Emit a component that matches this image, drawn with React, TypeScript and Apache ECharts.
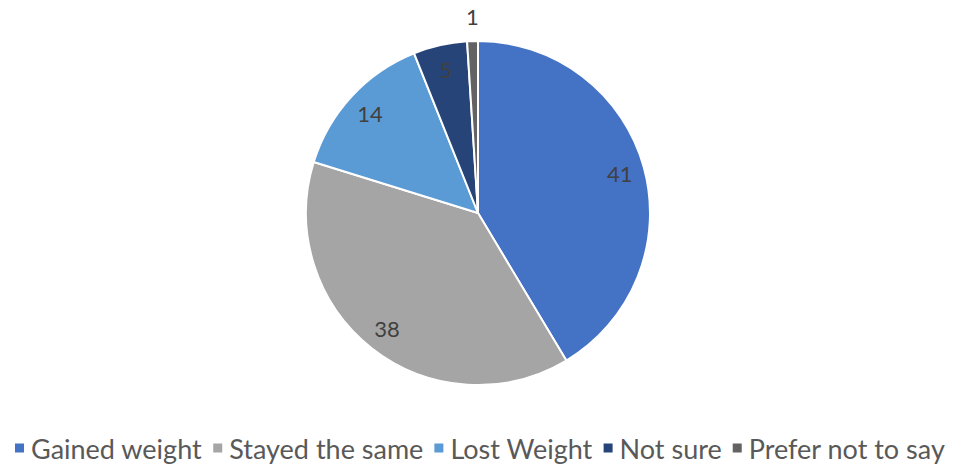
import React, { useEffect, useRef } from "react";
import * as echarts from "echarts";

const categories = ["Gained weight", "Stayed the same", "Lost Weight", "Not sure", "Prefer not to say"];
const values = [41, 38, 14, 5, 1];
const colors = ["#4472C4", "#A5A5A5", "#5B9BD5", "#264478", "#636363"];
const outsideLabelNames = ["Prefer not to say"];

export default function App() {
  const ref = useRef<HTMLDivElement>(null);
  useEffect(() => {
    if (!ref.current) return;
    const chart = echarts.init(ref.current, undefined, { renderer: "svg" });
    const center = [478, 213];
    const R = 172;
    const labelFont = { fontFamily: "Lato", fontSize: 22, color: "#404040" };
    chart.setOption({
      animation: false,
      legend: {
        left: 13,
        top: 434,
        padding: 0,
        icon: "rect",
        itemWidth: 11,
        itemHeight: 11,
        itemGap: 9,
        data: categories,
        textStyle: {
          fontFamily: "Lato",
          fontSize: 27,
          lineHeight: 28,
          color: "#595959",
          padding: [0, 0, 0, 1],
        },
      },
      series: [
        {
          type: "pie",
          center,
          radius: [0, R],
          startAngle: 90,
          clockwise: true,
          avoidLabelOverlap: false,
          emphasis: { disabled: true },
          itemStyle: { borderColor: "#ffffff", borderWidth: 2 },
          label: { show: false },
          labelLine: { show: false },
          data: categories.map((name, i) => {
            const outside = outsideLabelNames.includes(name);
            return {
              name,
              value: values[i],
              itemStyle: { color: colors[i] },
              label: outside
                ? { show: true, position: "outside", formatter: "{c}", distanceToLabelLine: -7, ...labelFont }
                : { show: false },
              labelLine: { show: false, length: 25, length2: 0 },
            };
          }),
        },
        {
          type: "pie",
          center,
          radius: [0, 288],
          startAngle: 90,
          clockwise: true,
          silent: true,
          avoidLabelOverlap: false,
          emphasis: { disabled: true },
          itemStyle: { color: "rgba(0,0,0,0)", borderWidth: 0 },
          labelLine: { show: false },
          label: { show: true, position: "inside", formatter: "{c}", ...labelFont },
          data: categories.map((name, i) => ({
            name,
            value: values[i],
            itemStyle: { color: "rgba(0,0,0,0)" },
            label: { show: !outsideLabelNames.includes(name) },
          })),
        },
      ],
    });
    return () => chart.dispose();
  }, []);
  return (
    <div
      ref={ref}
      style={{ position: "fixed", left: 0, top: 0, width: 963, height: 464, background: "#ffffff" }}
    />
  );
}
